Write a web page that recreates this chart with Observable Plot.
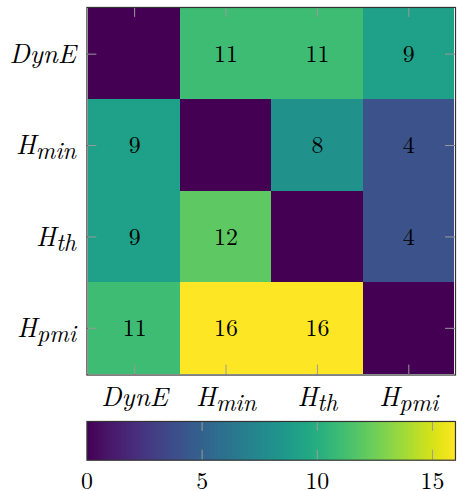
<!DOCTYPE html>
<html>
<head>
<meta charset="utf-8">
<script src="https://cdn.jsdelivr.net/npm/d3@7"></script>
<script src="https://cdn.jsdelivr.net/npm/@observablehq/plot@0.6"></script>
<style>
  html, body { margin: 0; padding: 0; background: #fff; overflow: hidden; }
  #chart svg { display: block; }
</style>
</head>
<body>
<div id="chart"></div>
<script>
// ---- data ----
const methods = ["DynE", "H_min", "H_th", "H_pmi"];
const rowDynE = [0, 11, 11, 9];
const rowHmin = [9, 0, 8, 4];
const rowHth  = [9, 12, 0, 4];
const rowHpmi = [11, 16, 16, 0];
const colorTicks = [0, 5, 10, 15];
const colorMin = 0;
const colorMax = 16;

const rows = [rowDynE, rowHmin, rowHth, rowHpmi];
const cells = rows.flatMap((r, i) => r.map((v, j) => ({row: methods[i], col: methods[j], value: v})));

const FONT = "'Latin Modern Roman', 'CMU Serif', 'Liberation Serif', serif";
const W = 460, ML = 87, MR = 2;
const H1 = 420, MT1 = 7, MB1 = 43;
const frameH = H1 - MT1 - MB1;
const frameW = W - ML - MR;
const TICK = 10;
const tickColor = "#9a9a9a";
const frameColor = "#333";

const colorOpts = {type: "linear", scheme: "viridis", domain: [colorMin, colorMax]};

const heat = Plot.plot({
  width: W, height: H1,
  marginLeft: ML, marginRight: MR, marginTop: MT1, marginBottom: MB1,
  style: {fontFamily: FONT, fontSize: "24px", background: "#fff", color: "#000"},
  x: {domain: methods, padding: 0, label: null},
  y: {domain: methods, padding: 0, label: null},
  color: colorOpts,
  marks: [
    Plot.cell(cells, {x: "col", y: "row", fill: "value", inset: 0, shapeRendering: "crispEdges"}),
    Plot.text(cells.filter(d => d.value !== 0), {x: "col", y: "row", text: d => String(d.value), fill: "#000", fontSize: 24}),
    // inward ticks on all four sides
    Plot.ruleX(methods, {x: d => d, stroke: tickColor, insetBottom: frameH - TICK}),
    Plot.ruleX(methods, {x: d => d, stroke: tickColor, insetTop: frameH - TICK}),
    Plot.ruleY(methods, {y: d => d, stroke: tickColor, insetRight: frameW - TICK}),
    Plot.ruleY(methods, {y: d => d, stroke: tickColor, insetLeft: frameW - TICK}),
    Plot.frame({stroke: frameColor, strokeWidth: 1.2}),
    Plot.axisX({anchor: "bottom", tickSize: 0, tickPadding: 12, fontSize: 27, fontStyle: "italic", label: null, tickFormat: d => d}),
    Plot.axisY({anchor: "left", tickSize: 0, tickPadding: 11, fontSize: 27, fontStyle: "italic", label: null, tickFormat: d => d})
  ]
});

// turn "H_min" into H with a subscript
function subscriptify(svg) {
  svg.querySelectorAll('g[aria-label$="tick label"] text').forEach(t => {
    const s = t.textContent;
    const k = s.indexOf("_");
    if (k < 0) return;
    const base = s.slice(0, k), sub = s.slice(k + 1);
    t.textContent = "";
    const ns = "http://www.w3.org/2000/svg";
    const a = document.createElementNS(ns, "tspan");
    a.textContent = base;
    const b = document.createElementNS(ns, "tspan");
    b.textContent = sub;
    b.setAttribute("font-size", "24");
    b.setAttribute("dy", "5");
    t.appendChild(a); t.appendChild(b);
  });
}
subscriptify(heat);

const H2 = 80, MT2 = 4, MB2 = 37;
const barH = H2 - MT2 - MB2;
const bar = Plot.plot({
  width: W, height: H2,
  marginLeft: ML, marginRight: MR, marginTop: MT2, marginBottom: MB2,
  style: {fontFamily: FONT, fontSize: "24px", background: "#fff", color: "#000"},
  x: {domain: [colorMin, colorMax], label: null},
  y: {domain: [0, 1], axis: null},
  color: colorOpts,
  marks: [
    Plot.raster({x1: colorMin, x2: colorMax, y1: 0, y2: 1, width: 400, height: 1, fill: (x, y) => x, imageRendering: "auto"}),
    Plot.ruleX(colorTicks.slice(1), {x: d => d, stroke: tickColor, insetBottom: barH - TICK}),
    Plot.ruleX(colorTicks.slice(1), {x: d => d, stroke: tickColor, insetTop: barH - TICK}),
    Plot.frame({stroke: frameColor, strokeWidth: 1.2}),
    Plot.axisX(colorTicks, {anchor: "bottom", tickSize: 0, tickPadding: 12, fontSize: 24, label: null})
  ]
});

document.getElementById("chart").append(heat, bar);
</script>
</body>
</html>
